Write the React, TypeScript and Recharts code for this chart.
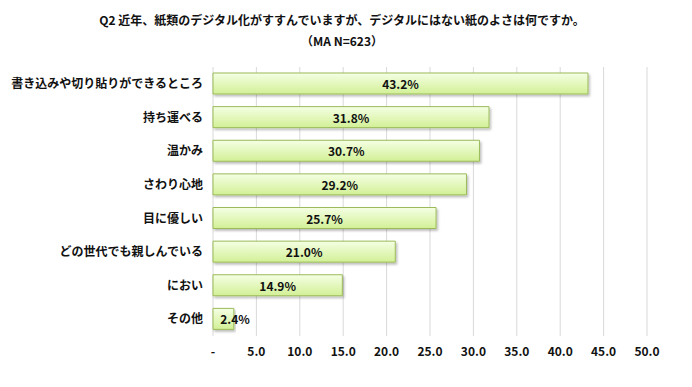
import React from "react"
import { BarChart, Bar, XAxis, YAxis, CartesianGrid, LabelList } from "recharts"

const categories = [
  "書き込みや切り貼りができるところ",
  "持ち運べる",
  "温かみ",
  "さわり心地",
  "目に優しい",
  "どの世代でも親しんでいる",
  "におい",
  "その他",
]
const values = [43.2, 31.8, 30.7, 29.2, 25.7, 21.0, 14.9, 2.4]
const xTicks = [0, 5, 10, 15, 20, 25, 30, 35, 40, 45, 50]

const titleLine1 = "Q2 近年、紙類のデジタル化がすすんでいますが、デジタルにはない紙のよさは何ですか。"
const titleLine2 = "（MA N=623）"

const FONT = "'Noto Sans CJK JP', 'Noto Sans', sans-serif"

const data = categories.map((name, i) => ({ name, value: values[i] }))

function tickFmt(v: number) {
  return v === 0 ? "-" : v.toFixed(1)
}

// label sits in bar center, but pushed right when the bar is too short
const ValueLabel = (props: any) => {
  const { x, y, width, height, value } = props
  const cx = Math.max(x + width / 2, x + 22)
  return (
    <text
      x={cx}
      y={y + height / 2}
      textAnchor="middle"
      dominantBaseline="central"
      fontSize={12}
      fontWeight={700}
      fill="#111"
      fontFamily={FONT}
    >
      {Number(value).toFixed(1)}%
    </text>
  )
}

export default function App() {
  return (
    <div
      style={{
        position: "fixed",
        left: 0,
        top: 0,
        width: 692,
        height: 387,
        background: "#fff",
        fontFamily: FONT,
      }}
    >
      <div
        style={{
          position: "absolute",
          top: 9,
          left: 0,
          width: 684,
          textAlign: "center",
          fontSize: 12,
          fontWeight: 700,
          color: "#111",
          lineHeight: "21px",
        }}
      >
        <div>{titleLine1}</div>
        <div>{titleLine2}</div>
      </div>
      <BarChart
        width={692}
        height={387}
        data={data}
        layout="vertical"
        margin={{ top: 67, right: 45, left: 0, bottom: 21 }}
      >
        <defs>
          <linearGradient id="barFill" x1="0" y1="0" x2="0" y2="1">
            <stop offset="0%" stopColor="#f5ffe4" />
            <stop offset="100%" stopColor="#d2f096" />
          </linearGradient>
          <filter id="barShadow" x="-5%" y="-20%" width="115%" height="160%">
            <feDropShadow dx="1.5" dy="2" stdDeviation="1" floodColor="#000" floodOpacity="0.25" />
          </filter>
        </defs>
        <CartesianGrid horizontal={false} stroke="#d9d9d9" />
        <XAxis
          type="number"
          domain={[0, 50]}
          ticks={xTicks}
          tickFormatter={tickFmt}
          axisLine={false}
          tickLine={false}
          tickSize={0}
          tickMargin={11}
          height={30}
          tick={{ fontSize: 12, fontWeight: 700, fill: "#111", fontFamily: FONT }}
        />
        <YAxis
          type="category"
          dataKey="name"
          width={213}
          axisLine={false}
          tickLine={false}
          tickSize={0}
          tickMargin={10}
          interval={0}
          tick={{ fontSize: 12, fontWeight: 700, fill: "#111", fontFamily: FONT }}
        />
        <Bar
          dataKey="value"
          barSize={21}
          fill="url(#barFill)"
          stroke="#9bbb59"
          strokeWidth={1}
          filter="url(#barShadow)"
          isAnimationActive={false}
        >
          <LabelList dataKey="value" content={<ValueLabel />} />
        </Bar>
      </BarChart>
    </div>
  )
}
